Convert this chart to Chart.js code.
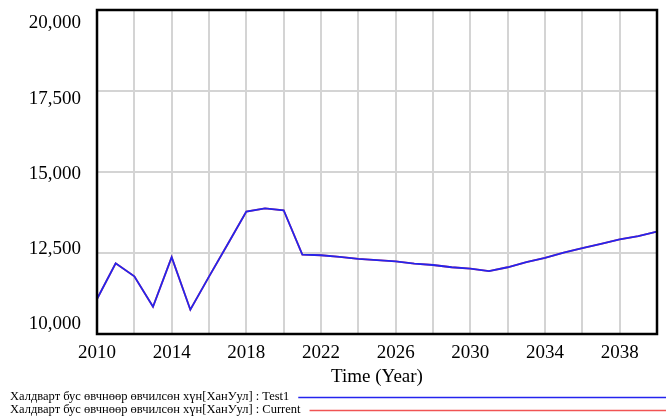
<!DOCTYPE html>
<html>
<head>
<meta charset="utf-8">
<script src="https://cdn.jsdelivr.net/npm/chart.js@4/dist/chart.umd.min.js"></script>
<style>
  html, body { margin: 0; padding: 0; background: #fff; }
  #wrap { width: 666px; height: 418px; }
</style>
</head>
<body>
<div id="wrap"><canvas id="c" width="666" height="418"></canvas></div>
<script>
// Simulation years
const years = [2010, 2011, 2012, 2013, 2014, 2015, 2016, 2017, 2018, 2019, 2020,
               2021, 2022, 2023, 2024, 2025, 2026, 2027, 2028, 2029, 2030,
               2031, 2032, 2033, 2034, 2035, 2036, 2037, 2038, 2039, 2040];

// Халдварт бус өвчнөөр өвчилсөн хүн, ХанУул district, run "Test1"
const test1 = [11080, 12180, 11780, 10840, 12370, 10750, 11770, 12770, 13780, 13880, 13820,
               12450, 12430, 12380, 12320, 12280, 12240, 12170, 12130, 12060, 12020,
               11940, 12060, 12220, 12350, 12510, 12650, 12780, 12920, 13020, 13160];

// Same variable, run "Current"
const current = [11080, 12180, 11780, 10840, 12370, 10750, 11770, 12770, 13780, 13880, 13820,
                 12450, 12430, 12380, 12320, 12280, 12240, 12170, 12130, 12060, 12020,
                 11940, 12060, 12220, 12350, 12510, 12650, 12780, 12920, 13020, 13160];

const runNames = ['Test1', 'Current'];
const varName = 'Халдварт бус өвчнөөр өвчилсөн хүн[ХанУул]';
const yTicks = [10000, 12500, 15000, 17500, 20000];
const xLabelYears = [2010, 2014, 2018, 2022, 2026, 2030, 2034, 2038];

const serif = '"Liberation Serif", "Times New Roman", serif';
const toPoints = arr => years.map((y, i) => ({ x: y, y: arr[i] }));

// Black box around the plot area
const framePlugin = {
  id: 'frame',
  afterDatasetsDraw(chart) {
    const { ctx, chartArea: a } = chart;
    ctx.save();
    ctx.strokeStyle = '#000';
    ctx.lineWidth = 2.5;
    ctx.strokeRect(a.left, a.top, a.right - a.left, a.bottom - a.top);
    ctx.restore();
  }
};

// Run legend: "variable : run" text followed by a line in the run colour
const runLegend = {
  id: 'runLegend',
  afterDraw(chart) {
    const { ctx } = chart;
    ctx.save();
    ctx.font = '12.5px ' + serif;
    ctx.textBaseline = 'middle';
    ctx.fillStyle = '#000';
    const rows = [397, 410];
    chart.data.datasets.forEach((ds, i) => {
      const y = rows[i];
      const txt = ds.label;
      ctx.fillText(txt, 10, y);
      const w = ctx.measureText(txt).width;
      ctx.strokeStyle = ds.borderColor;
      ctx.lineWidth = 1.6;
      ctx.beginPath();
      ctx.moveTo(10 + w + 9, y + 0.5);
      ctx.lineTo(666, y + 0.5);
      ctx.stroke();
    });
    ctx.restore();
  }
};

new Chart(document.getElementById('c'), {
  type: 'line',
  data: {
    datasets: [
      {
        label: varName + ' : ' + runNames[0],
        data: toPoints(test1),
        xAxisID: 'x',
        yAxisID: 'y',
        borderColor: '#2424ee',
        borderWidth: 1.8,
        pointRadius: 0,
        tension: 0,
        fill: false
      },
      {
        label: varName + ' : ' + runNames[1],
        data: toPoints(current),
        xAxisID: 'x',
        yAxisID: 'y',
        borderColor: '#f05454',
        borderWidth: 1.8,
        pointRadius: 0,
        tension: 0,
        fill: false
      }
    ]
  },
  options: {
    responsive: false,
    animation: false,
    devicePixelRatio: 1,
    layout: { padding: { left: 0, top: 10, right: 9, bottom: 0 } },
    plugins: {
      legend: { display: false },
      tooltip: { enabled: false }
    },
    scales: {
      x: {
        type: 'linear',
        min: 2010,
        max: 2040,
        afterFit(scale) {
          scale.height = 84;
          scale.paddingLeft = 0;
          scale.paddingRight = 0;
        },
        afterBuildTicks(scale) {
          const t = [];
          for (let v = 2010; v <= 2040; v += 2) t.push({ value: v });
          scale.ticks = t;
        },
        grid: { color: '#d4d4d4', lineWidth: 2, drawTicks: false },
        border: { display: false },
        ticks: {
          autoSkip: false,
          maxRotation: 0,
          padding: 8,
          color: '#000',
          font: { family: serif, size: 19 },
          callback: v => xLabelYears.includes(v) ? String(v) : ''
        },
        title: {
          display: true,
          text: 'Time (Year)',
          color: '#000',
          font: { family: serif, size: 19 },
          padding: { top: 0, bottom: 30 }
        }
      },
      // value axis: carries the data and the horizontal grid lines
      y: {
        type: 'linear',
        position: 'left',
        min: 10000,
        max: 20000,
        afterFit(scale) {
          scale.width = 0;
          scale.paddingTop = 0;
          scale.paddingBottom = 0;
        },
        afterBuildTicks(scale) { scale.ticks = yTicks.map(v => ({ value: v })); },
        grid: { color: '#d4d4d4', lineWidth: 2, drawTicks: false },
        border: { display: false },
        ticks: { display: false }
      },
      // label axis: tick labels set slightly inside the plot's top and bottom
      yLab: {
        type: 'linear',
        position: 'left',
        min: 9684,
        max: 20449,
        afterFit(scale) {
          scale.width = 97;
          scale.paddingTop = 0;
          scale.paddingBottom = 0;
        },
        afterBuildTicks(scale) { scale.ticks = yTicks.map(v => ({ value: v })); },
        grid: { display: false, drawTicks: false },
        border: { display: false },
        ticks: {
          padding: 16,
          color: '#000',
          font: { family: serif, size: 19 },
          callback: v => Number(v).toLocaleString('en-US')
        }
      }
    }
  },
  plugins: [framePlugin, runLegend]
});
</script>
</body>
</html>
